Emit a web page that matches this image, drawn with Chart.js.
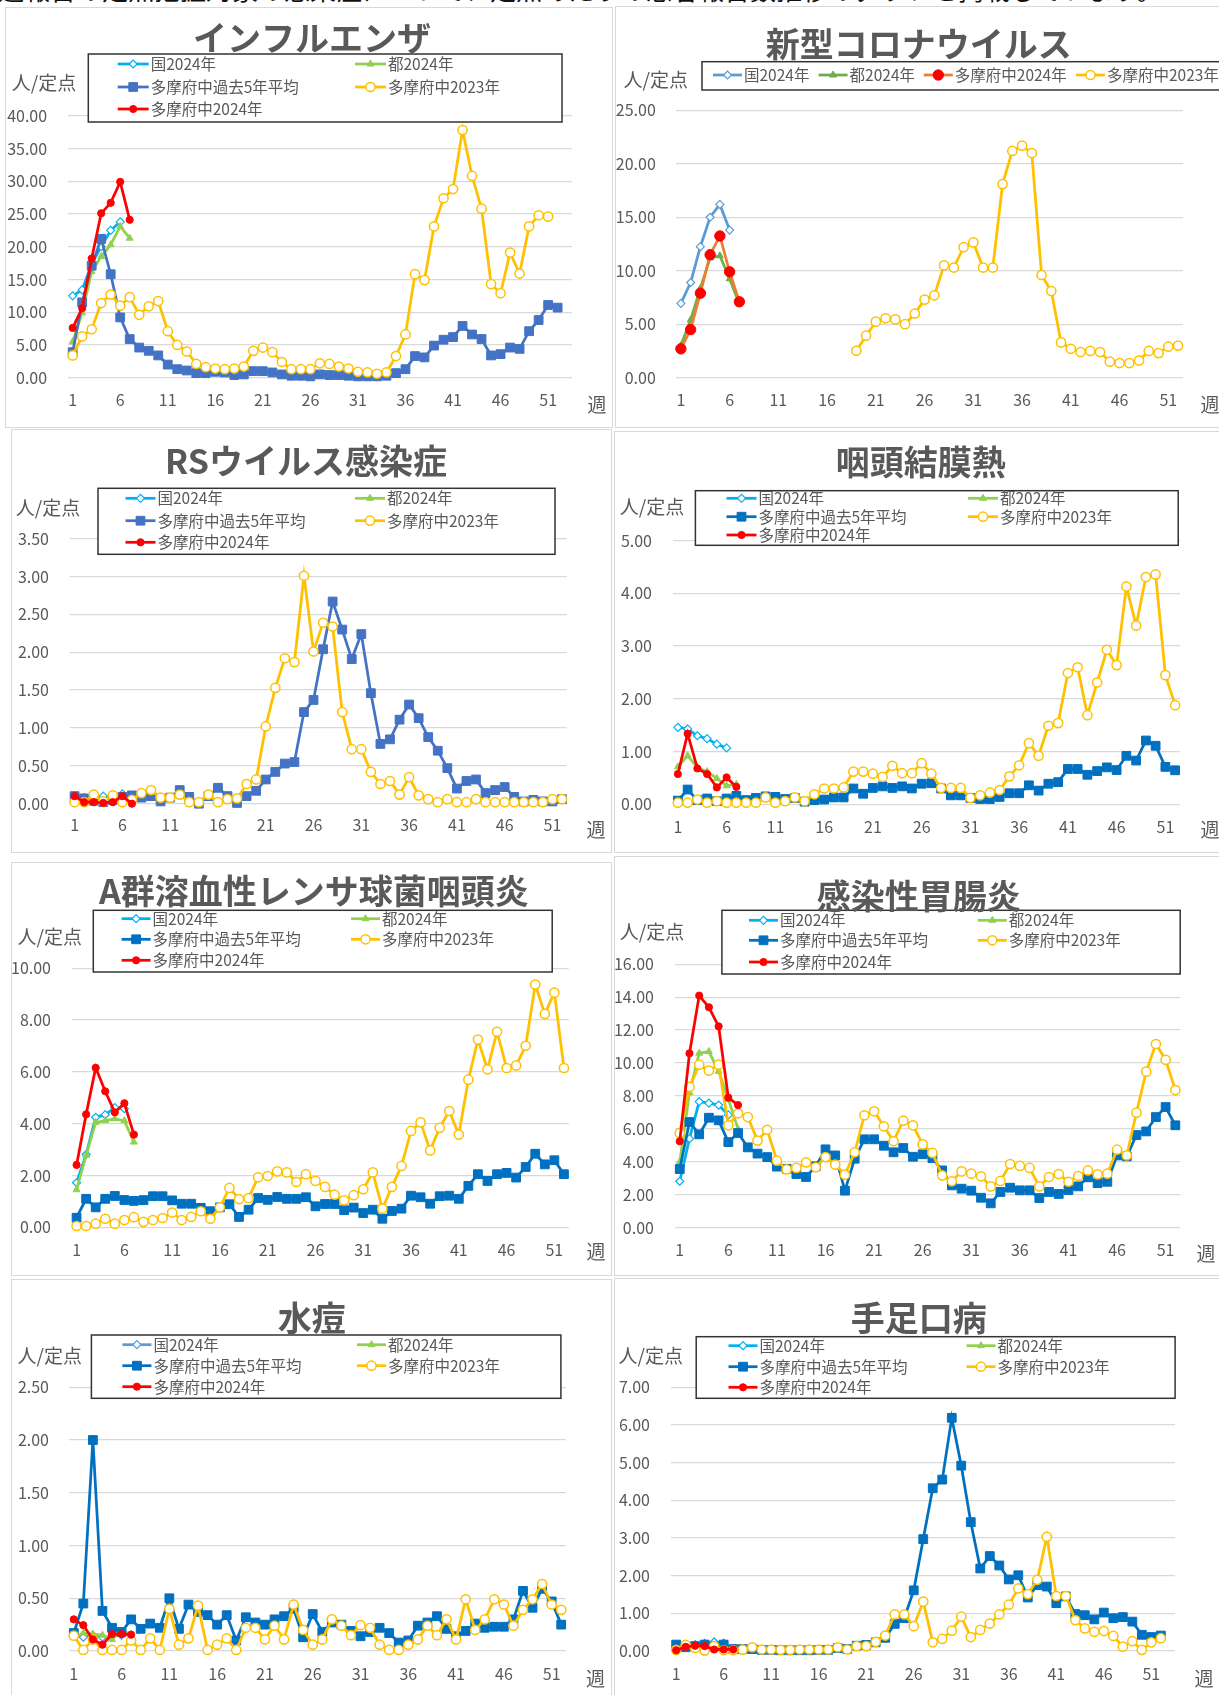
<!DOCTYPE html>
<html lang="ja">
<head>
<meta charset="UTF-8">
<title>定点把握対象感染症の推移</title>
<style>
  body {
    margin: 0;
    width: 1219px;
    height: 1695px;
    overflow: hidden;
    position: relative;
    background: #fff;
    font-family: "Noto Sans CJK JP", "Noto Sans", sans-serif;
  }
  .topline {
    position: absolute;
    left: -2px;
    top: -24px;
    font-size: 26px;
    line-height: 26px;
    color: #111;
    white-space: nowrap;
  }
  .panel {
    position: absolute;
    box-sizing: border-box;
    border: 1px solid #d9d9d9;
    background: #fff;
  }
  canvas { position: absolute; }
</style>
</head>
<body>
<div class="topline">週報告の定点把握対象の感染症について、定点あたりの患者報告数推移のグラフを掲載しています。</div>

<script src="https://cdn.jsdelivr.net/npm/chart.js"></script>
<script>
// ---- categories / tick labels ----
const weeks52 = ['1','2','3','4','5','6','7','8','9','10','11','12','13','14','15','16','17','18','19','20',
  '21','22','23','24','25','26','27','28','29','30','31','32','33','34','35','36','37','38','39','40',
  '41','42','43','44','45','46','47','48','49','50','51','52'];
const weeks53 = weeks52.concat(['53']);
const xTickLabels = ['1','6','11','16','21','26','31','36','41','46','51'];

// ---- インフルエンザ ----
const fluTicks = [0, 5, 10, 15, 20, 25, 30, 35, 40];
const flu_kuni = [12.5, 13.4, 17.4, 20.0, 22.5, 23.8];
const flu_to = [5.5, 9.9, 16.2, 18.5, 20.3, 23.1, 21.3];
const flu_avg5 = [3.9, 11.5, 17.1, 21.2, 15.8, 9.2, 5.9, 4.6, 4.1, 3.4, 2.0, 1.3, 1.1, 0.7, 0.7, 0.9, 0.8, 0.4, 0.5, 1.0,
  1.0, 0.8, 0.5, 0.3, 0.3, 0.2, 0.5, 0.4, 0.4, 0.3, 0.2, 0.2, 0.2, 0.3, 0.7, 1.3, 3.3, 3.1, 4.9, 5.8,
  6.2, 7.9, 6.6, 5.9, 3.4, 3.6, 4.6, 4.4, 7.1, 8.8, 11.1, 10.7];
const flu_2023 = [3.4, 6.3, 7.4, 11.4, 12.7, 11.0, 12.3, 9.6, 10.9, 11.7, 7.1, 5.0, 4.0, 2.1, 1.6, 1.4, 1.3, 1.4, 1.7, 4.1,
  4.6, 3.9, 2.4, 1.3, 1.3, 1.3, 2.2, 2.1, 1.7, 1.4, 0.9, 0.8, 0.6, 0.8, 3.3, 6.6, 15.8, 14.9, 23.1, 27.4,
  28.8, 37.8, 30.8, 25.8, 14.3, 12.9, 19.1, 15.9, 23.1, 24.8, 24.6];
const flu_2024 = [7.6, 10.6, 18.2, 25.1, 26.7, 29.9, 24.1];

// ---- 新型コロナウイルス ----
const covTicks = [0, 5, 10, 15, 20, 25];
const cov_kuni = [6.95, 8.9, 12.25, 15.0, 16.2, 13.8];
const cov_to = [3.0, 5.4, 8.35, 11.2, 11.4, 9.25, 6.9];
const cov_2024 = [2.7, 4.5, 7.9, 11.5, 13.25, 9.9, 7.1];
const cov_2023 = [null, null, null, null, null, null, null, null, null, null, null, null, null, null, null, null, null, null,
  2.52, 3.93, 5.24, 5.55, 5.45, 5.0, 6.0, 7.3, 7.7, 10.5, 10.3, 12.2, 12.65, 10.3, 10.3, 18.1, 21.2, 21.7, 21.0,
  9.6, 8.1, 3.3, 2.7, 2.4, 2.5, 2.4, 1.5, 1.37, 1.37, 1.6, 2.5, 2.3, 2.9, 3.0];

// ---- RSウイルス感染症 ----
const rsTicks = [0, 0.5, 1, 1.5, 2, 2.5, 3, 3.5];
const rs_kuni = [0.1, 0.08, 0.05, 0.1, 0.08, 0.13];
const rs_to = [0.08, 0.06, 0.05, 0.05, 0.06, 0.08, 0.06];
const rs_avg5 = [0.1, 0.07, 0.04, 0.02, 0.05, 0.09, 0.11, 0.08, 0.1, 0.03, 0.08, 0.18, 0.09, 0.0, 0.1, 0.21, 0.1, 0.01, 0.1, 0.17,
  0.32, 0.42, 0.53, 0.55, 1.21, 1.37, 2.04, 2.67, 2.3, 1.91, 2.24, 1.46, 0.79, 0.85, 1.11, 1.31, 1.13, 0.88, 0.7, 0.47,
  0.2, 0.3, 0.32, 0.14, 0.18, 0.22, 0.09, 0.03, 0.05, 0.03, 0.03, 0.06];
const rs_2023 = [0.02, 0.02, 0.12, 0.03, 0.11, 0.02, 0.05, 0.14, 0.18, 0.08, 0.08, 0.12, 0.02, 0.02, 0.12, 0.02, 0.06, 0.07, 0.26, 0.32,
  1.02, 1.53, 1.92, 1.87, 3.01, 2.01, 2.39, 2.34, 1.21, 0.72, 0.72, 0.42, 0.26, 0.3, 0.12, 0.35, 0.11, 0.06, 0.02, 0.06,
  0.02, 0.02, 0.06, 0.02, 0.02, 0.02, 0.02, 0.02, 0.02, 0.02, 0.06, 0.06];
const rs_2024 = [0.1, 0.02, 0.02, 0.01, 0.02, 0.1, 0.0];

// ---- 咽頭結膜熱 ----
const pcfTicks = [0, 1, 2, 3, 4, 5];
const pcf_kuni = [1.46, 1.43, 1.3, 1.245, 1.14, 1.07];
const pcf_to = [0.71, 0.92, 0.7, 0.62, 0.49, 0.35, 0.38];
const pcf_avg5 = [0.07, 0.28, 0.08, 0.11, 0.06, 0.11, 0.16, 0.08, 0.12, 0.15, 0.14, 0.1, 0.12, 0.05, 0.08, 0.09, 0.13, 0.13, 0.3, 0.2,
  0.31, 0.34, 0.31, 0.34, 0.3, 0.39, 0.4, 0.3, 0.17, 0.17, 0.12, 0.1, 0.1, 0.14, 0.21, 0.21, 0.36, 0.26, 0.39, 0.42,
  0.67, 0.67, 0.56, 0.63, 0.7, 0.65, 0.92, 0.83, 1.21, 1.11, 0.71, 0.645];
const pcf_2023 = [0.03, 0.03, 0.09, 0.03, 0.06, 0.03, 0.03, 0.03, 0.03, 0.13, 0.03, 0.06, 0.13, 0.06, 0.19, 0.3, 0.3, 0.32, 0.62, 0.62,
  0.58, 0.52, 0.73, 0.59, 0.59, 0.78, 0.58, 0.31, 0.31, 0.31, 0.12, 0.17, 0.22, 0.27, 0.53, 0.74, 1.16, 0.92, 1.49, 1.54,
  2.49, 2.6, 1.69, 2.31, 2.93, 2.64, 4.13, 3.39, 4.31, 4.36, 2.45, 1.88];
const pcf_2024 = [0.575, 1.34, 0.68, 0.575, 0.32, 0.51, 0.33];

// ---- A群溶血性レンサ球菌咽頭炎 ----
const gasTicks = [0, 2, 4, 6, 8, 10];
const gas_kuni = [1.72, 2.81, 4.25, 4.35, 4.62, 4.58];
const gas_to = [1.45, 2.78, 4.05, 4.12, 4.19, 4.12, 3.29];
const gas_avg5 = [0.37, 1.1, 0.77, 1.1, 1.21, 1.055, 1.02, 1.05, 1.2, 1.2, 1.04, 0.91, 0.91, 0.75, 0.62, 0.77, 0.89, 0.4, 0.68, 1.13,
  1.06, 1.17, 1.1, 1.1, 1.16, 0.81, 0.9, 0.9, 0.66, 0.76, 0.55, 0.68, 0.33, 0.63, 0.72, 1.22, 1.16, 0.91, 1.2, 1.22,
  1.1, 1.6, 2.05, 1.79, 2.05, 2.1, 1.92, 2.33, 2.84, 2.43, 2.59, 2.05];
const gas_2023 = [0.05, 0.05, 0.14, 0.33, 0.14, 0.28, 0.39, 0.21, 0.28, 0.36, 0.57, 0.28, 0.4, 0.62, 0.33, 0.77, 1.52, 1.09, 1.13, 1.93,
  1.98, 2.16, 2.12, 1.75, 2.05, 1.79, 1.56, 1.26, 1.04, 1.24, 1.47, 2.12, 0.72, 1.56, 2.37, 3.72, 4.05, 2.97, 3.84, 4.49,
  3.58, 5.7, 7.25, 6.1, 7.55, 6.15, 6.25, 7.01, 9.37, 8.24, 9.06, 6.15];
const gas_2024 = [2.41, 4.36, 6.16, 5.25, 4.44, 4.79, 3.58];

// ---- 感染性胃腸炎 ----
const geTicks = [0, 2, 4, 6, 8, 10, 12, 14, 16];
const ge_kuni = [2.82, 5.41, 7.66, 7.57, 7.45, 6.85];
const ge_to = [4.0, 8.2, 10.6, 10.7, 9.5, 7.8, 6.0];
const ge_avg5 = [3.56, 6.42, 5.67, 6.68, 6.52, 5.2, 5.75, 4.88, 4.5, 4.29, 3.71, 3.58, 3.26, 3.08, 3.73, 4.76, 4.39, 2.25, 4.19, 5.37,
  5.37, 4.98, 4.58, 4.84, 4.31, 4.46, 4.23, 3.48, 2.57, 2.37, 2.25, 1.82, 1.48, 2.17, 2.43, 2.27, 2.27, 1.8, 2.17, 2.05,
  2.29, 2.51, 3.06, 2.71, 2.79, 4.39, 4.33, 5.63, 5.85, 6.72, 7.33, 6.22];
const ge_2023 = [5.75, 8.55, 9.9, 9.54, 9.9, 6.22, 6.95, 6.72, 5.29, 5.95, 4.07, 3.54, 3.63, 3.97, 3.67, 4.29, 3.83, 3.22, 4.58, 6.83,
  7.07, 6.16, 5.25, 6.5, 6.22, 5.06, 4.54, 3.18, 2.82, 3.42, 3.28, 3.12, 2.51, 2.84, 3.87, 3.75, 3.63, 2.51, 3.08, 3.26,
  2.79, 3.14, 3.48, 3.24, 3.28, 4.74, 4.39, 6.99, 9.48, 11.16, 10.2, 8.36];
const ge_2024 = [5.25, 10.59, 14.1, 13.39, 12.23, 7.9, 7.45];

// ---- 水痘 ----
const vzTicks = [0, 0.5, 1, 1.5, 2, 2.5];
const vz_kuni = [0.17, 0.13, 0.15, 0.13, 0.14, 0.15];
const vz_to = [0.13, 0.17, 0.16, 0.15, 0.11, 0.19, 0.16];
const vz_avg5 = [0.17, 0.45, 2.0, 0.38, 0.22, 0.18, 0.3, 0.21, 0.26, 0.22, 0.5, 0.21, 0.44, 0.37, 0.34, 0.25, 0.34, 0.1, 0.32, 0.27,
  0.25, 0.3, 0.33, 0.4, 0.13, 0.35, 0.18, 0.27, 0.25, 0.19, 0.14, 0.18, 0.22, 0.17, 0.08, 0.1, 0.24, 0.27, 0.33, 0.21,
  0.14, 0.19, 0.26, 0.22, 0.23, 0.23, 0.3, 0.57, 0.41, 0.59, 0.47, 0.25];
const vz_2023 = [0.145, 0.01, 0.11, 0.01, 0.01, 0.01, 0.1, 0.01, 0.12, 0.01, 0.4, 0.06, 0.12, 0.43, 0.01, 0.06, 0.12, 0.01, 0.22, 0.22,
  0.11, 0.24, 0.11, 0.44, 0.2, 0.06, 0.11, 0.3, 0.24, 0.15, 0.245, 0.22, 0.06, 0.01, 0.01, 0.06, 0.11, 0.24, 0.15, 0.3,
  0.11, 0.49, 0.2, 0.3, 0.49, 0.44, 0.24, 0.39, 0.49, 0.635, 0.44, 0.39];
const vz_2024 = [0.3, 0.245, 0.11, 0.06, 0.16, 0.16, 0.155];

// ---- 手足口病 ----
const hfmdTicks = [0, 1, 2, 3, 4, 5, 6, 7];
const hfmd_kuni = [0.15, 0.15, 0.17, 0.2, 0.24, 0.21];
const hfmd_to = [0.08, 0.1, 0.1, 0.1, 0.1, 0.1, 0.08];
const hfmd_avg5 = [0.17, 0.1, 0.13, 0.17, 0.12, 0.17, 0.05, 0.05, 0.05, 0.03, 0.03, 0.02, 0.02, 0.02, 0.02, 0.03, 0.03, 0.08, 0.05, 0.14,
  0.16, 0.23, 0.35, 0.72, 0.87, 1.61, 2.97, 4.32, 4.55, 6.19, 4.92, 3.42, 2.19, 2.52, 2.27, 1.9, 2.01, 1.42, 1.75, 1.71,
  1.27, 1.45, 0.98, 0.95, 0.84, 1.02, 0.87, 0.9, 0.78, 0.43, 0.37, 0.41];
const hfmd_2023 = [0.03, 0.16, 0.08, 0.01, 0.13, 0.02, 0.02, 0.035, 0.1, 0.04, 0.04, 0.03, 0.03, 0.04, 0.04, 0.04, 0.04, 0.1, 0.04, 0.13,
  0.13, 0.24, 0.41, 0.97, 0.97, 0.66, 1.31, 0.23, 0.32, 0.54, 0.91, 0.37, 0.56, 0.73, 0.97, 1.23, 1.66, 1.51, 1.89, 3.03,
  1.46, 1.46, 0.82, 0.6, 0.51, 0.53, 0.4, 0.115, 0.26, 0.03, 0.23, 0.34];
const hfmd_2024 = [0.02, 0.11, 0.14, 0.13, 0.04, 0.04, 0.04];

// ---- styles ----
const FONT = '"Noto Sans CJK JP", "Noto Sans", sans-serif';
const TXT = '#595959';
const ST = {
  kuni: c => ({ borderColor: c, pointStyle: 'rectRot', pointRadius: 4, pointBackgroundColor: '#fff', pointBorderColor: c, pointBorderWidth: 1.2 }),
  to: c => ({ borderColor: c, pointStyle: 'triangle', pointRadius: 4, pointBackgroundColor: c, pointBorderColor: c, pointBorderWidth: 1 }),
  avg: c => ({ borderColor: c, pointStyle: 'rect', pointRadius: 6.2, pointBackgroundColor: c, pointBorderColor: c, pointBorderWidth: 1 }),
  y23: () => ({ borderColor: '#FFC000', pointStyle: 'circle', pointRadius: 4.6, pointBackgroundColor: '#fff', pointBorderColor: '#FFC000', pointBorderWidth: 1.5 }),
  y24: (line, r) => ({ borderColor: line, pointStyle: 'circle', pointRadius: r, pointBackgroundColor: '#FF0000', pointBorderColor: '#FF0000', pointBorderWidth: 1 })
};
const L_KUNI = '国2024年', L_TO = '都2024年', L_AVG = '多摩府中過去5年平均', L_23 = '多摩府中2023年', L_24 = '多摩府中2024年';

// legend plus titles, drawn on the canvas
function makeDecor(c) {
  const ox = c.rect[0], oy = c.rect[1];
  return {
    id: 'decor',
    afterDatasetsDraw(chart) {
      const ctx = chart.ctx;
      const lg = c.legend;
      ctx.save();
      const bx = lg.box[0] - ox, by = lg.box[1] - oy;
      const bw = lg.box[2] - lg.box[0], bh = lg.box[3] - lg.box[1];
      ctx.fillStyle = '#fff';
      ctx.fillRect(bx, by, bw, bh);
      ctx.strokeStyle = '#333';
      ctx.lineWidth = 1.5;
      ctx.strokeRect(bx, by, bw, bh);
      lg.items.forEach(it => {
        const ds = chart.data.datasets[it[0]];
        const x = it[1] - ox, y = it[2] - oy;
        ctx.strokeStyle = ds.borderColor;
        ctx.lineWidth = ds.borderWidth;
        ctx.beginPath();
        ctx.moveTo(x, y);
        ctx.lineTo(x + lg.len, y);
        ctx.stroke();
        ctx.fillStyle = ds.pointBackgroundColor;
        ctx.strokeStyle = ds.pointBorderColor;
        ctx.lineWidth = ds.pointBorderWidth;
        Chart.helpers.drawPoint(ctx, { pointStyle: ds.pointStyle, radius: ds.pointRadius, borderWidth: ds.pointBorderWidth, rotation: 0 }, x + lg.len / 2, y);
        ctx.fillStyle = TXT;
        ctx.font = '15.5px ' + FONT;
        ctx.textAlign = 'left';
        ctx.textBaseline = 'middle';
        ctx.fillText(ds.label, x + lg.len + 2, y);
      });
      // title
      ctx.fillStyle = TXT;
      ctx.font = 'bold 34px ' + FONT;
      ctx.textAlign = 'center';
      ctx.textBaseline = 'middle';
      ctx.fillText(c.title, c.titlePos[0] - ox, c.titlePos[1] - oy);
      // units
      ctx.font = '19px ' + FONT;
      ctx.textAlign = 'left';
      ctx.fillText('人/定点', c.unitPos[0] - ox, c.unitPos[1] - oy);
      ctx.textAlign = 'center';
      ctx.fillText('週', c.weekPos[0] - ox, c.weekPos[1] - oy);
      ctx.restore();
    }
  };
}

function makeChart(c) {
  const [rx, ry, rw, rh] = c.rect;
  const panel = document.createElement('div');
  panel.className = 'panel';
  Object.assign(panel.style, { left: rx + 'px', top: ry + 'px', width: rw + 'px', height: rh + 'px' });
  const cv = document.createElement('canvas');
  cv.width = rw;
  cv.height = rh;
  Object.assign(cv.style, { left: rx + 'px', top: ry + 'px', width: rw + 'px', height: rh + 'px' });
  document.body.append(panel, cv);

  // y axis box spans from the panel edge to the plot, so tick labels are not clipped
  const YW = c.L - rx - 1, XH = 40, TF = 16;
  const n = c.series.length;
  const datasets = c.series.map((s, i) => Object.assign({
    label: s[0], data: s[1], borderWidth: 2.75, fill: false, tension: 0,
    clip: false, spanGaps: false, order: n - i
  }, s[2]));

  new Chart(cv, {
    type: 'line',
    data: { labels: c.labels, datasets },
    options: {
      responsive: false,
      animation: false,
      devicePixelRatio: 1,
      events: [],
      layout: { padding: { left: 1, right: rx + rw - c.R, top: c.T - ry, bottom: ry + rh - c.B - XH } },
      plugins: { legend: { display: false }, tooltip: { enabled: false } },
      scales: {
        x: {
          type: 'category',
          offset: true,
          grid: { display: false, drawTicks: false },
          border: { display: false },
          ticks: {
            autoSkip: false, maxRotation: 0, minRotation: 0,
            padding: c.xLabY - c.B - TF * 0.6,
            color: TXT, font: { family: FONT, size: TF },
            callback: function (v) {
              const l = this.getLabelForValue(v);
              return xTickLabels.includes(l) ? l : '';
            }
          },
          afterFit: s => { s.height = XH; }
        },
        y: {
          min: 0,
          max: c.yTicks[c.yTicks.length - 1],
          grid: { color: '#d9d9d9', lineWidth: 1.3, drawTicks: false },
          border: { display: false },
          afterBuildTicks: s => { s.ticks = c.yTicks.map(v => ({ value: v })); },
          ticks: {
            padding: c.L - c.yLabR,
            color: TXT, font: { family: FONT, size: TF },
            callback: v => v.toFixed(2)
          },
          afterFit: s => { s.width = YW; }
        }
      }
    },
    plugins: [makeDecor(c)]
  });
}

// 5-series legend layout helper: rows y, column line starts
function legend5(box, rows, cols, len) {
  return {
    box, len,
    items: [[0, cols[0], rows[0]], [1, cols[1], rows[0]], [2, cols[0], rows[1]], [3, cols[1], rows[1]], [4, cols[0], rows[2]]]
  };
}

makeChart({
  title: 'インフルエンザ', labels: weeks53, yTicks: fluTicks,
  rect: [5, 7, 608, 421], L: 67.9, R: 571.9, T: 115.7, B: 377.7, yLabR: 47.1, xLabY: 400,
  titlePos: [312, 38], unitPos: [11.8, 83], weekPos: [597, 405],
  legend: legend5([88.3, 54, 562, 122], [64, 87, 109], [117.7, 355], 31),
  series: [
    [L_KUNI, flu_kuni, ST.kuni('#00B0F0')],
    [L_TO, flu_to, ST.to('#92D050')],
    [L_AVG, flu_avg5, ST.avg('#4472C4')],
    [L_23, flu_2023, ST.y23()],
    [L_24, flu_2024, ST.y24('#FF0000', 3.6)]
  ]
});

makeChart({
  title: '新型コロナウイルス', labels: weeks52, yTicks: covTicks,
  rect: [615, 6, 610, 422], L: 676, R: 1182.9, T: 110.3, B: 377.7, yLabR: 655.8, xLabY: 400,
  titlePos: [918.8, 44], unitPos: [623.6, 80], weekPos: [1210, 405],
  legend: { box: [702, 61.7, 1240, 90], len: 29, items: [[0, 713, 75], [1, 818.6, 75], [2, 923.8, 75], [3, 1076, 75]] },
  series: [
    [L_KUNI, cov_kuni, ST.kuni('#5B9BD5')],
    [L_TO, cov_to, ST.to('#70AD47')],
    [L_24, cov_2024, ST.y24('#ED7D31', 5.2)],
    [L_23, cov_2023, ST.y23()]
  ]
});

makeChart({
  title: 'RSウイルス感染症', labels: weeks52, yTicks: rsTicks,
  rect: [11, 429, 601, 424], L: 69.8, R: 566.8, T: 538.7, B: 803.7, yLabR: 49, xLabY: 825,
  titlePos: [306, 461], unitPos: [15.7, 508], weekPos: [596, 830],
  legend: legend5([98, 488.3, 555, 554.3], [498.3, 520.7, 542.3], [125.5, 355], 30),
  series: [
    [L_KUNI, rs_kuni, ST.kuni('#00B0F0')],
    [L_TO, rs_to, ST.to('#92D050')],
    [L_AVG, rs_avg5, ST.avg('#4472C4')],
    [L_23, rs_2023, ST.y23()],
    [L_24, rs_2024, ST.y24('#FF0000', 3.6)]
  ]
});

makeChart({
  title: '咽頭結膜熱', labels: weeks52, yTicks: pcfTicks,
  rect: [614, 431, 610, 422], L: 673, R: 1180, T: 540.7, B: 804.3, yLabR: 652, xLabY: 826.7,
  titlePos: [920.7, 462], unitPos: [619.7, 506.7], weekPos: [1210, 830],
  legend: legend5([695.4, 490.7, 1178.2, 545.3], [498.3, 516.7, 535], [726.5, 968], 30),
  series: [
    [L_KUNI, pcf_kuni, ST.kuni('#00B0F0')],
    [L_TO, pcf_to, ST.to('#92D050')],
    [L_AVG, pcf_avg5, ST.avg('#0070C0')],
    [L_23, pcf_2023, ST.y23()],
    [L_24, pcf_2024, ST.y24('#FF0000', 3.6)]
  ]
});

makeChart({
  title: 'A群溶血性レンサ球菌咽頭炎', labels: weeks52, yTicks: gasTicks,
  rect: [11, 862, 601, 414], L: 71.8, R: 568.7, T: 968.3, B: 1227.3, yLabR: 51, xLabY: 1250.3,
  titlePos: [313.8, 891], unitPos: [17.6, 937], weekPos: [596, 1252],
  legend: legend5([93.3, 910.3, 552.2, 972], [918.7, 939.3, 960.3], [121.6, 351], 29),
  series: [
    [L_KUNI, gas_kuni, ST.kuni('#00B0F0')],
    [L_TO, gas_to, ST.to('#92D050')],
    [L_AVG, gas_avg5, ST.avg('#0070C0')],
    [L_23, gas_2023, ST.y23()],
    [L_24, gas_2024, ST.y24('#FF0000', 3.6)]
  ]
});

makeChart({
  title: '感染性胃腸炎', labels: weeks52, yTicks: geTicks,
  rect: [614, 856, 610, 420], L: 674.9, R: 1180.2, T: 964.3, B: 1227.7, yLabR: 653.9, xLabY: 1250.3,
  titlePos: [918.8, 896], unitPos: [619.7, 932], weekPos: [1206, 1253.7],
  legend: legend5([721.9, 910.3, 1180.2, 974], [920.3, 940.3, 962], [749, 977.8], 29),
  series: [
    [L_KUNI, ge_kuni, ST.kuni('#00B0F0')],
    [L_TO, ge_to, ST.to('#92D050')],
    [L_AVG, ge_avg5, ST.avg('#0070C0')],
    [L_23, ge_2023, ST.y23()],
    [L_24, ge_2024, ST.y24('#FF0000', 3.6)]
  ]
});

makeChart({
  title: '水痘', labels: weeks52, yTicks: vzTicks,
  rect: [11, 1279, 601, 420], L: 69, R: 566, T: 1387.3, B: 1651, yLabR: 49, xLabY: 1674,
  titlePos: [311.8, 1318], unitPos: [17.6, 1355.7], weekPos: [595.4, 1679],
  legend: legend5([91.4, 1335, 560.9, 1398.3], [1344.7, 1365.7, 1386.7], [122.4, 357], 29),
  series: [
    [L_KUNI, vz_kuni, ST.kuni('#5B9BD5')],
    [L_TO, vz_to, ST.to('#92D050')],
    [L_AVG, vz_avg5, ST.avg('#0070C0')],
    [L_23, vz_2023, ST.y23()],
    [L_24, vz_2024, ST.y24('#FF0000', 3.6)]
  ]
});

makeChart({
  title: '手足口病', labels: weeks53, yTicks: hfmdTicks,
  rect: [614, 1278, 610, 420], L: 671.4, R: 1175.1, T: 1387.3, B: 1651, yLabR: 650, xLabY: 1674,
  titlePos: [918.8, 1318], unitPos: [618.5, 1355.7], weekPos: [1204, 1679],
  legend: legend5([696.2, 1336.7, 1175.1, 1398.3], [1345.7, 1366.7, 1387.3], [728.5, 966.5], 29),
  series: [
    [L_KUNI, hfmd_kuni, ST.kuni('#00B0F0')],
    [L_TO, hfmd_to, ST.to('#92D050')],
    [L_AVG, hfmd_avg5, ST.avg('#0070C0')],
    [L_23, hfmd_2023, ST.y23()],
    [L_24, hfmd_2024, ST.y24('#FF0000', 3.6)]
  ]
});
</script>
</body>
</html>
